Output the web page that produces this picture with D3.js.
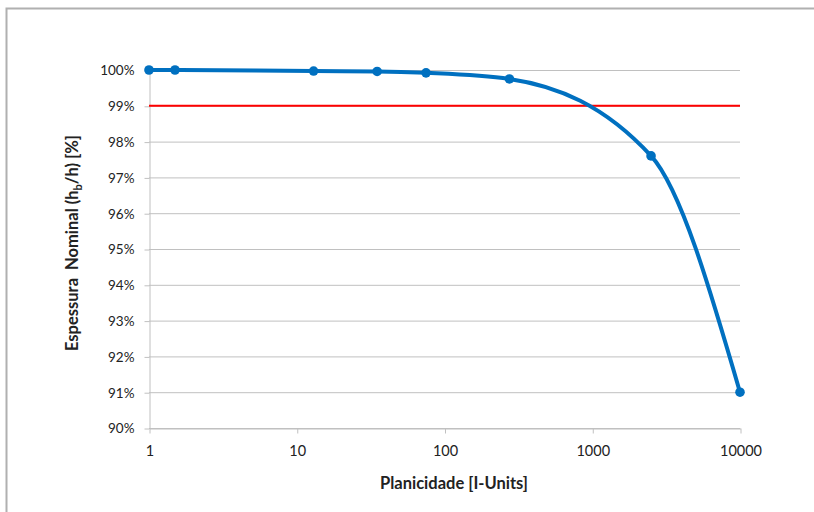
<!DOCTYPE html>
<html>
<head>
<meta charset="utf-8">
<script src="https://cdn.jsdelivr.net/npm/d3@7"></script>
<style>
  body { margin: 0; background: #fff; }
  text { font-family: Lato, "Open Sans", sans-serif; fill: #222; }
  .axis-title { font-weight: bold; font-size: 16.5px; }
</style>
</head>
<body>
<div id="chart"></div>
<script>
// chart values
var planicidade = [1, 1.5, 13, 35, 75, 275, 2500, 10000];
var espessura = [100, 100, 99.97, 99.96, 99.92, 99.75, 97.6, 91.0];
var limite = 99;
var xTicks = [1, 10, 100, 1000, 10000];
var yTicks = [90, 91, 92, 93, 94, 95, 96, 97, 98, 99, 100];

var svgWidth = 814, svgHeight = 512;
var margin = {"top": 70, "bottom": 84, "left": 149, "right": 74};

var svg = d3.select("#chart").append("svg")
    .attr("width", svgWidth)
    .attr("height", svgHeight);

// outer frame of the chart object
svg.append("path")
    .attr("d", "M6.5," + svgHeight + "V8.5H" + svgWidth)
    .attr("fill", "none")
    .attr("stroke", "#b0b0b0")
    .attr("stroke-width", 2);

var xScale = d3.scaleLog()
    .domain([1, 10000])
    .range([margin.left, svgWidth - margin.right]);

var yScale = d3.scaleLinear()
    .domain([90, 100])
    .range([svgHeight - margin.bottom, margin.top]);

// gridlines
svg.append("g").selectAll("line")
    .data(yTicks)
    .enter().append("line")
    .attr("x1", margin.left)
    .attr("x2", svgWidth - margin.right)
    .attr("y1", d => yScale(d) + 0.5)
    .attr("y2", d => yScale(d) + 0.5)
    .attr("stroke", "#c0c0c0")
    .attr("stroke-width", 1);

// axes
var yAxis = d3.axisLeft(yScale)
    .tickValues(yTicks)
    .tickFormat(d => d + "%")
    .tickSize(5)
    .tickPadding(10)
    .tickSizeOuter(0);

var xAxis = d3.axisBottom(xScale)
    .tickValues(xTicks)
    .tickFormat(d3.format("d"))
    .tickSize(5)
    .tickPadding(12)
    .tickSizeOuter(0);

var gy = svg.append("g")
    .attr("transform", "translate(" + (margin.left + 0.5) + ", 0.5)")
    .call(yAxis);
gy.select(".domain").attr("stroke", "#c0c0c0");
gy.selectAll(".tick line").attr("stroke", "#c0c0c0");
gy.selectAll(".tick text").style("font-size", "13.5px").style("font-family", "Lato");

var gx = svg.append("g")
    .attr("transform", "translate(0.5, " + (svgHeight - margin.bottom + 0.5) + ")")
    .call(xAxis);
gx.select(".domain").attr("stroke", "#c0c0c0");
gx.selectAll(".tick line").attr("stroke", "#c0c0c0");
gx.selectAll(".tick text").style("font-size", "14.5px").style("font-family", "Lato");

// 99% limit
svg.append("line")
    .attr("x1", margin.left)
    .attr("x2", svgWidth - margin.right)
    .attr("y1", yScale(limite))
    .attr("y2", yScale(limite))
    .attr("stroke", "#ff0000")
    .attr("stroke-width", 2);

// smoothed series (monotone so the flat part does not overshoot)
var pts = planicidade.map((p, i) => [p, espessura[i]]);
var line = d3.line()
    .x(d => xScale(d[0]))
    .y(d => yScale(d[1]))
    .curve(d3.curveMonotoneX);

svg.append("path")
    .datum(pts)
    .attr("d", line)
    .attr("fill", "none")
    .attr("stroke", "#0070c0")
    .attr("stroke-width", 4);

svg.append("g").selectAll("circle")
    .data(pts)
    .enter().append("circle")
    .attr("cx", d => xScale(d[0]))
    .attr("cy", d => yScale(d[1]))
    .attr("r", 4.8)
    .attr("fill", "#0070c0");

// titles
svg.append("text")
    .attr("class", "axis-title")
    .attr("x", 454)
    .attr("y", 489)
    .attr("text-anchor", "middle")
    .text("Planicidade [I-Units]");

var yTitle = svg.append("text")
    .attr("class", "axis-title")
    .attr("transform", "translate(78, 243) rotate(-90)")
    .attr("text-anchor", "middle");
yTitle.append("tspan").text("Espessura\u00a0\u00a0Nominal (h");
yTitle.append("tspan").attr("dy", 4).style("font-size", "11px").text("b");
yTitle.append("tspan").attr("dy", -4).text("/h) [%]");
</script>
</body>
</html>
